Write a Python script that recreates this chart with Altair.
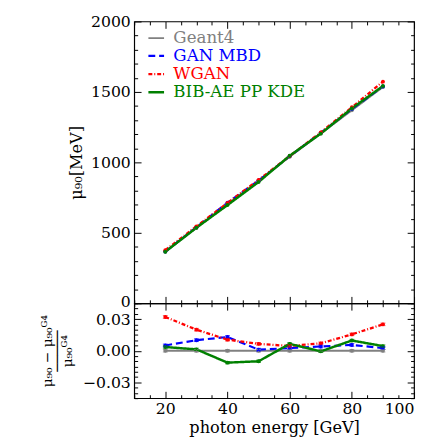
import altair as alt
import pandas as pd

energies = [20, 30, 40, 50, 60, 70, 80, 90]
series = ["Geant4", "GAN MBD", "WGAN", "BIB-AE PP KDE"]
colors = ["#808080", "#0000ff", "#ff0000", "#008000"]
dashes = [[1, 0], [7, 4], [4, 2, 1, 2], [1, 0]]
widths = [2, 2.5, 2, 1.5]

mu_g4 = [365, 535, 705, 870, 1040, 1205, 1370, 1535]
mu_gan = [367, 540, 714, 871, 1043, 1210, 1378, 1539]
mu_wgan = [377, 546, 712, 876, 1045, 1213, 1391, 1573]
mu_bib = [366, 536, 697, 861, 1047, 1204, 1383, 1542]

rel_g4 = [0.0, 0.0, 0.0, 0.0, 0.0, 0.0, 0.0, 0.0]
rel_gan = [0.005, 0.010, 0.013, 0.001, 0.0025, 0.004, 0.0055, 0.0025]
rel_wgan = [0.032, 0.020, 0.0105, 0.0065, 0.0045, 0.007, 0.0155, 0.025]
rel_bib = [0.0035, 0.0013, -0.0113, -0.010, 0.0065, -0.0006, 0.0097, 0.0044]

err_g4 = [0.0012, 0.0012, 0.0012, 0.0012, 0.0012, 0.0012, 0.0012, 0.0012]
err_gan = [0.0013, 0.0013, 0.0013, 0.0013, 0.0013, 0.0013, 0.0013, 0.0013]
err_wgan = [0.0012, 0.0012, 0.0012, 0.0012, 0.0012, 0.0012, 0.0012, 0.0012]
err_bib = [0.0011, 0.0011, 0.0011, 0.0011, 0.0011, 0.0011, 0.0011, 0.0011]

x_major = [20, 40, 60, 80, 100]
x_minor = list(range(10, 101, 5))
y1_major = [0, 500, 1000, 1500, 2000]
y1_minor = list(range(0, 2001, 100))
y2_major = [-0.03, 0.0, 0.03]
y2_minor = [round(-0.045 + 0.005 * i, 3) for i in range(19)]

rows = []
for s, mu, rel, err in zip(series, [mu_g4, mu_gan, mu_wgan, mu_bib],
                           [rel_g4, rel_gan, rel_wgan, rel_bib],
                           [err_g4, err_gan, err_wgan, err_bib]):
    for e, m, r, er in zip(energies, mu, rel, err):
        rows.append({"energy": e, "series": s, "mu": m, "rel": r, "err": er})
df = pd.DataFrame(rows)

W = 286
H1 = 288
H2 = 97
FONT = "DejaVu Serif"

label_color = {"expr": "datum.value == 'Geant4' ? '#808080' : datum.value == 'GAN MBD' ? '#0000ff' : datum.value == 'WGAN' ? '#ff0000' : '#008000'"}


def tsize(test):
    return {"condition": {"test": test, "value": 7}, "value": 3.5}


xtest = "datum.value % 20 === 0"


def panel(yfield, ydom, ymaj, ymin, ytest, h, bottom, ytitle, yfmt, legend, ytitle_kw):
    xsc = alt.Scale(domain=[10, 100], nice=False, zero=False)
    ysc = alt.Scale(domain=ydom, nice=False, zero=False)
    base = alt.Chart(df)
    if bottom:
        xmain = alt.Axis(values=x_major, ticks=False, tickSize=0, domain=False, grid=False,
                         labelPadding=3, title="photon energy [GeV]", titlePadding=3,
                         format="d", labelFlush=True)
    else:
        xmain = None
    ymain = alt.Axis(values=ymaj, ticks=False, tickSize=0, domain=False, grid=False,
                     labelPadding=4, title=ytitle, format=yfmt, **ytitle_kw)
    enc_c = alt.Color("series:N", scale=alt.Scale(domain=series, range=colors), legend=legend)
    enc_d = alt.StrokeDash("series:N", scale=alt.Scale(domain=series, range=dashes), legend=legend)
    enc_w = alt.StrokeWidth("series:N", scale=alt.Scale(domain=series, range=widths), legend=None)
    lines = base.mark_line().encode(
        x=alt.X("energy:Q", scale=xsc, axis=xmain),
        y=alt.Y(yfield + ":Q", scale=ysc, axis=ymain),
        color=enc_c, strokeDash=enc_d, strokeWidth=enc_w,
    )
    pts = base.mark_point(filled=True, size=16, opacity=1).encode(
        x=alt.X("energy:Q", scale=xsc, axis=None),
        y=alt.Y(yfield + ":Q", scale=ysc, axis=None),
        color=alt.Color("series:N", scale=alt.Scale(domain=series, range=colors), legend=None),
    )

    def carrier(xo, yo, hh):
        return base.mark_point(opacity=0).encode(
            x=alt.X("energy:Q", scale=xsc,
                    axis=alt.Axis(orient=xo, offset=-hh, values=x_minor, labels=False, domain=False,
                                  grid=False, title=None, tickSize=tsize(xtest), tickColor="black",
                                  minExtent=0, maxExtent=0)),
            y=alt.Y(yfield + ":Q", scale=ysc,
                    axis=alt.Axis(orient=yo, offset=-W, values=ymin, labels=False, domain=False,
                                  grid=False, title=None, tickSize=tsize(ytest), tickColor="black",
                                  minExtent=0, maxExtent=0)),
        )

    layers = [lines, pts]
    if bottom:
        eb = base.mark_errorbar(ticks=True, thickness=1).encode(
            x=alt.X("energy:Q", scale=xsc, axis=None),
            y=alt.Y("rel:Q", scale=ysc, axis=None),
            yError="err:Q",
            color=alt.Color("series:N", scale=alt.Scale(domain=series, range=colors), legend=None),
        )
        layers.append(eb)
    layers += [carrier("top", "right", h), carrier("bottom", "left", h)]
    return alt.layer(*layers).resolve_axis(x="independent", y="independent").properties(
        width=W, height=h)


legend = alt.Legend(orient="none", legendX=13, legendY=8, title=None, symbolType="stroke",
                    symbolSize=256, symbolStrokeWidth=2, labelFont=FONT, labelFontSize=17,
                    labelColor=label_color, rowPadding=0.6, padding=0, labelOffset=8)

top = panel("mu", [0, 2000], y1_major, y1_minor, "datum.value % 500 === 0", H1, False,
            "μ₉₀[MeV]", "d", legend,
            {"titlePadding": 6,
             "labelOffset": {"condition": {"test": "datum.value === 0", "value": -2}, "value": 0}})
bot = panel("rel", [-0.045, 0.045], y2_major, y2_minor,
            "abs(datum.value / 0.03 - round(datum.value / 0.03)) < 1e-6", H2, True,
            ["μ₉₀ − μ₉₀ᴳ⁴", "─────", "μ₉₀ᴳ⁴"], ".2f", None,
            {"titlePadding": 8, "titleFontSize": 14, "titleLineHeight": 10,
             "labelOffset": {"condition": {"test": "datum.value > 0.02", "value": 1}, "value": 0}})

chart = alt.vconcat(top, bot, spacing=0, bounds="flush").resolve_scale(
    color="independent", strokeDash="independent", strokeWidth="independent"
).properties(
    padding={"left": 33, "top": 0, "right": 0, "bottom": 0}
).configure_view(stroke="black", strokeWidth=1.2).configure_axis(
    labelFont=FONT, labelFontSize=16, labelColor="black", titleFont=FONT, titleFontSize=16.5,
    titleFontWeight="normal", titleColor="black", tickColor="black"
)

chart.save("out.html", embed_options={"renderer": "svg", "actions": False})
